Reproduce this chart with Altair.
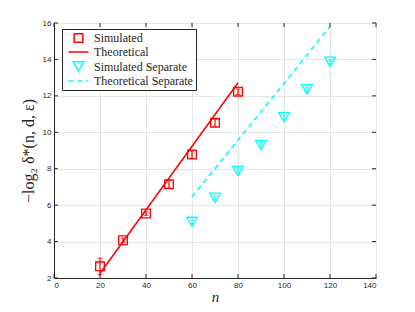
import altair as alt
import pandas as pd

# ---- data ----
n_sim = [20, 30, 40, 50, 60, 70, 80]
y_sim = [2.64, 4.07, 5.54, 7.15, 8.78, 10.52, 12.23]
e_sim = [0.45, 0.12, 0.10, 0.20, 0.20, 0.20, 0.15]

n_sep = [60, 70, 80, 90, 100, 110, 120]
y_sep = [5.08, 6.40, 7.87, 9.30, 10.82, 12.36, 13.87]
e_sep = [0.12, 0.12, 0.12, 0.12, 0.12, 0.12, 0.12]

n_th = [20, 80]
y_th = [2.25, 12.72]

n_ths = [60, 120]
y_ths = [6.45, 15.80]

x_ticks = [0, 20, 40, 60, 80, 100, 120, 140]
y_ticks = [2, 4, 6, 8, 10, 12, 14, 16]

names = ["Simulated", "Theoretical", "Simulated Separate", "Theoretical Separate"]
RED = "#ff0000"
CYAN = "#00ffff"

pts = pd.DataFrame(
    {"n": n_sim + n_sep, "y": y_sim + y_sep, "e": e_sim + e_sep,
     "series": ["Simulated"] * len(n_sim) + ["Simulated Separate"] * len(n_sep),
     "c": [RED] * len(n_sim) + [CYAN] * len(n_sep)}
)
pts["lo"] = pts["y"] - pts["e"]
pts["hi"] = pts["y"] + pts["e"]

lines = pd.DataFrame(
    {"n": n_th + n_ths, "y": y_th + y_ths,
     "series": ["Theoretical"] * len(n_th) + ["Theoretical Separate"] * len(n_ths)}
)

W, H = 322, 255

xs = alt.Scale(domain=[0, 140], nice=False)
ys = alt.Scale(domain=[2, 16], nice=False)

color = alt.Color("series:N", scale=alt.Scale(domain=names, range=[RED, RED, CYAN, CYAN]),
                  legend=alt.Legend(title=None, orient="none", legendX=8, legendY=6,
                                    labelFont="Liberation Serif", labelFontSize=12,
                                    labelColor="#262626",
                                    strokeColor="#262626", fillColor="white",
                                    padding=3, rowPadding=0, symbolStrokeWidth=1.5,
                                    symbolFillColor="transparent",
                                    symbolOffset=7, offset=0, labelOffset=9))

axis_common = dict(labelFont="Liberation Sans", labelFontSize=8, labelColor="#262626",
                   tickSize=0, labelPadding=3, domainColor="#262626",
                   gridColor="#e6e6e6", labelOverlap=False)

x_axis = alt.Axis(values=x_ticks, title="n", titleFont="Liberation Serif",
                  titleFontStyle="italic", titleFontWeight="normal",
                  titleFontSize=15, titleColor="#262626", titlePadding=0,
                  **axis_common)
y_axis = alt.Axis(values=y_ticks, title="−log₂ δ*(n, d, ε)",
                  titleFont="Liberation Serif", titleFontWeight="normal",
                  titleFontSize=16, titleColor="#262626", titlePadding=6,
                  **axis_common)

xq = alt.X("n:Q", scale=xs, axis=x_axis)

base_pts = alt.Chart(pts)

err = base_pts.mark_rule(strokeWidth=1.2).encode(
    x=xq, y=alt.Y("lo:Q", scale=ys, axis=y_axis), y2="hi:Q",
    color=alt.Color("c:N", scale=None))
cap_lo = base_pts.mark_tick(thickness=1.2, size=5, orient="horizontal").encode(
    x=xq, y=alt.Y("lo:Q", scale=ys, axis=y_axis), color=alt.Color("c:N", scale=None))
cap_hi = base_pts.mark_tick(thickness=1.2, size=5, orient="horizontal").encode(
    x=xq, y=alt.Y("hi:Q", scale=ys, axis=y_axis), color=alt.Color("c:N", scale=None))

LINE_SYM = "M-2,0H2"
markers = base_pts.mark_point(filled=False, strokeWidth=1.3, opacity=1).encode(
    x=xq, y=alt.Y("y:Q", scale=ys, axis=y_axis), color=color,
    shape=alt.Shape("series:N", scale=alt.Scale(domain=names,
                    range=["square", LINE_SYM, "triangle-down", LINE_SYM])),
    size=alt.Size("series:N", scale=alt.Scale(type="ordinal", domain=names,
                                              range=[75, 100, 115, 100])),
)

theory = alt.Chart(lines).mark_line(strokeWidth=1.6).encode(
    x=xq, y=alt.Y("y:Q", scale=ys, axis=y_axis), color=color,
    detail="series:N",
    strokeDash=alt.StrokeDash("series:N", scale=alt.Scale(domain=names,
                              range=[[1, 0], [1, 0], [1, 0], [5, 4]])),
)

# inward ticks on all four sides
xt = pd.DataFrame({"t": x_ticks})
yt = pd.DataFrame({"t": y_ticks})
tk = dict(color="#262626", strokeWidth=1)
txq = alt.X("t:Q", scale=xs, axis=x_axis)
tyq = alt.Y("t:Q", scale=ys, axis=y_axis)
xb = alt.Chart(xt).mark_rule(**tk).encode(x=txq, y=alt.value(H), y2=alt.value(H - 4))
xtop = alt.Chart(xt).mark_rule(**tk).encode(x=txq, y=alt.value(0), y2=alt.value(4))
yl = alt.Chart(yt).mark_rule(**tk).encode(y=tyq, x=alt.value(0), x2=alt.value(4))
yr = alt.Chart(yt).mark_rule(**tk).encode(y=tyq, x=alt.value(W), x2=alt.value(W - 4))

chart = alt.layer(markers, theory, err, cap_lo, cap_hi, xb, xtop, yl, yr).properties(
    width=W, height=H,
    padding={"left": 46, "top": 15, "right": 30, "bottom": 26},
    autosize=alt.AutoSizeParams(type="none"),
).configure_view(stroke="#262626", strokeWidth=1).configure(background="white")

chart.save("out.html", embed_options={"renderer": "svg", "actions": False})
